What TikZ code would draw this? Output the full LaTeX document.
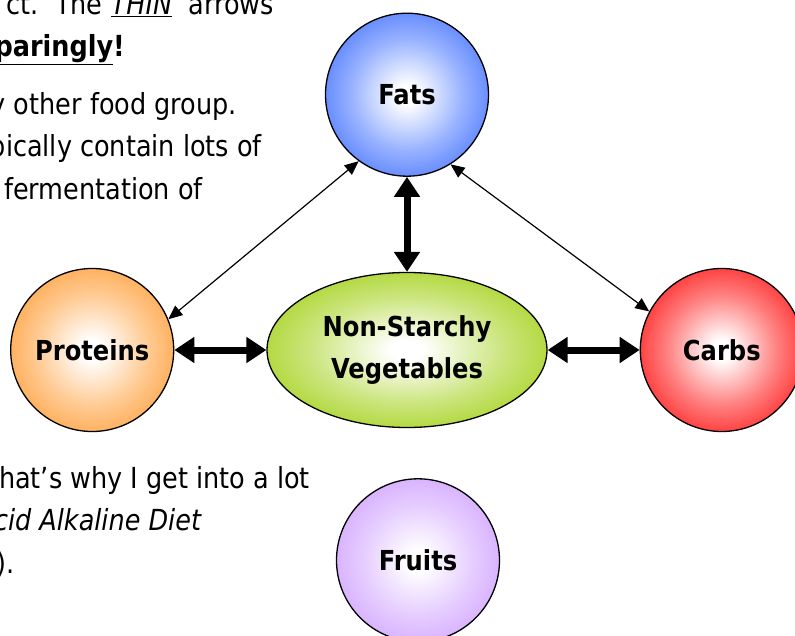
\documentclass[tikz,border=0pt]{standalone}
\usepackage{fontspec}
\setmainfont{DejaVu Sans}[FakeStretch=0.88]
\usetikzlibrary{arrows.meta,positioning,shapes.geometric}
\definecolor{fatblue}{RGB}{51,102,255}
\definecolor{protorange}{RGB}{255,150,40}
\definecolor{carbred}{RGB}{255,0,0}
\definecolor{fruitlilac}{RGB}{204,153,255}
\definecolor{veggreen}{RGB}{153,204,0}
\colorlet{ballcol}{white}
\pgfdeclareradialshading[ballcol]{foodball}{\pgfpoint{0bp}{0bp}}{color(0bp)=(white); color(3bp)=(white); color(17bp)=(ballcol!50!white); color(34bp)=(ballcol); color(50bp)=(ballcol)}
\begin{document}
\begin{tikzpicture}[x=1pt, y=-1pt]
\tikzstyle{thinarrow} = [line width = 1.2pt, {Triangle[length=14pt, width=12pt]}-{Triangle[length=14pt, width=12pt]}]
\tikzstyle{thickarrow} = [line width = 7pt, {Triangle[length=20pt, width=25pt]}-{Triangle[length=20pt, width=25pt]}]
\tikzstyle{ball} = [circle, draw = black, line width = 1.3pt, minimum size = 163pt, inner sep = 0pt, shading = foodball, /utils/exec = {\colorlet{ballcol}{#1}}, font = \bfseries\fontsize{27.5pt}{42pt}\selectfont, text = black]
\tikzstyle{para} = [anchor = base east, inner sep = 0pt, font = \fontsize{29pt}{42pt}\selectfont]
\useasboundingbox (0,0) rectangle (795,636);
\clip (0,0) rectangle (795,636);
% page text around the chart
\node[para](lineA) at (274,15) {ct.~~The \underline{\textit{THIN}}~~arrows};
\node[para](lineB) at (125,57) {\textbf{\underline{paringly}!}};
\node[para](lineC) at (237,115) {y other food group.};
\node[para](lineD) at (262,157) {pically contain lots of};
\node[para](lineE) at (203,200) {fermentation of};
\node[para](lineF) at (310,488) {hat’s why I get into a lot};
\node[para](lineG) at (202,530) {\textit{cid Alkaline Diet}};
\node[para](lineH) at (15,573) {).};
% food groups
\node[ellipse, draw = black, line width = 1.3pt, minimum width = 280pt, minimum height = 155pt, inner sep = 0pt, shading = foodball, /utils/exec = {\colorlet{ballcol}{veggreen}}, align = center, font = \bfseries\fontsize{27.5pt}{42pt}\selectfont](Veg) at (407,350) {Non-Starchy\\Vegetables};
\node[ball = fatblue, above = 95pt of Veg](Fats){Fats};
\node[ball = protorange, left = 92pt of Veg](Proteins){Proteins};
\node[ball = carbred, right = 92pt of Veg](Carbs){Carbs};
\node[ball = fruitlilac, below = 50pt of Veg, xshift = 11pt](Fruits){Fruits};
\draw[thickarrow] (Fats)--(Veg);
\draw[thickarrow] (Proteins)--(Veg);
\draw[thickarrow] (Veg)--(Carbs);
\draw[thinarrow] (Proteins.22)--(Fats.234);
\draw[thinarrow] (Fats.302)--(Carbs.152);
\end{tikzpicture}
\end{document}
